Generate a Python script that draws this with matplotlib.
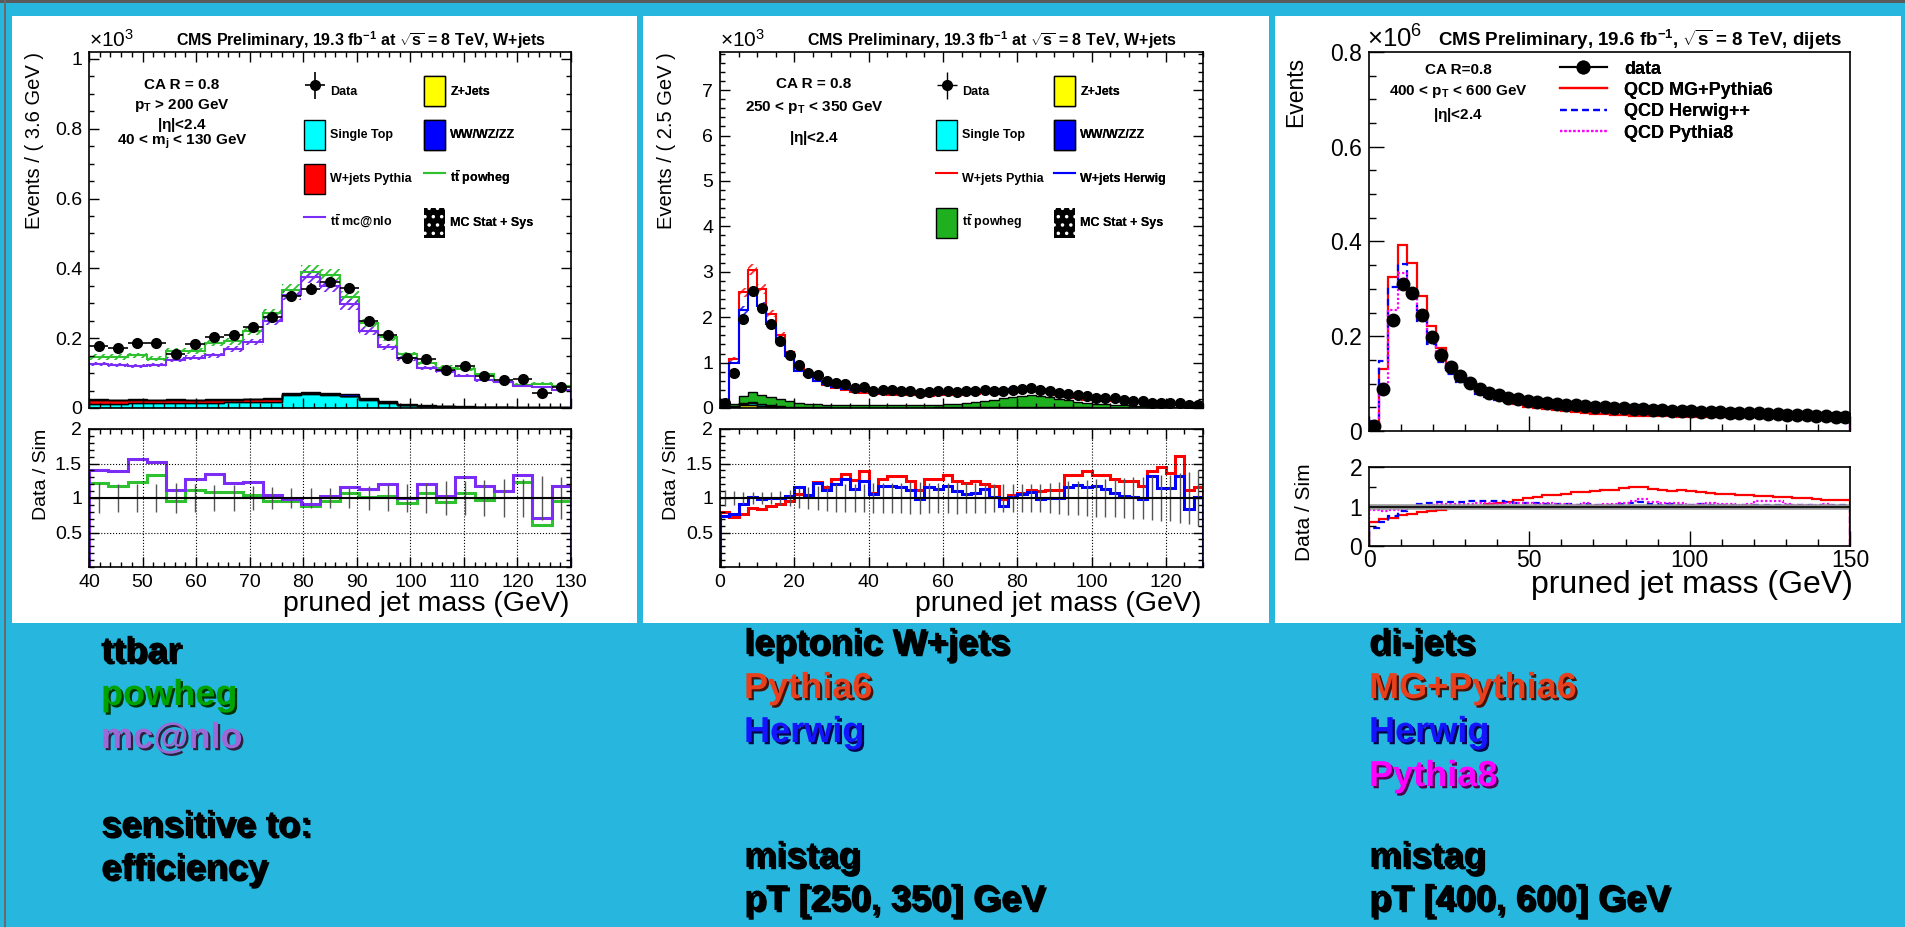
import numpy as np
import matplotlib
matplotlib.use("Agg")
import matplotlib.pyplot as plt
import matplotlib.patheffects as pe
from matplotlib.patches import Rectangle, Patch
from matplotlib.lines import Line2D
from matplotlib.legend_handler import HandlerErrorbar
from matplotlib.ticker import MultipleLocator, FixedLocator, FuncFormatter

plt.rcParams["font.family"] = ["Liberation Sans", "DejaVu Sans"]
plt.rcParams["mathtext.fontset"] = "custom"
plt.rcParams["mathtext.rm"] = "Liberation Sans"
plt.rcParams["mathtext.it"] = "Liberation Sans:italic"
plt.rcParams["mathtext.bf"] = "Liberation Sans:bold"
plt.rcParams["mathtext.default"] = "regular"
plt.rcParams["hatch.linewidth"] = 1.3

W, H = 1905, 927

# ---------------- ttbar sample, W+jets selection (x1e3 events / 3.6 GeV)
tt_edges = np.arange(40, 130.01, 3.6)
tt_data = [0.177, 0.172, 0.187, 0.187, 0.155, 0.184, 0.203, 0.208, 0.232, 0.260,
           0.322, 0.342, 0.361, 0.344, 0.249, 0.209, 0.142, 0.139, 0.110, 0.120,
           0.093, 0.081, 0.083, 0.043, 0.060]
tt_data_err = [0.011, 0.011, 0.011, 0.011, 0.010, 0.011, 0.012, 0.012, 0.012, 0.013,
               0.014, 0.015, 0.015, 0.015, 0.013, 0.012, 0.010, 0.010, 0.009, 0.009,
               0.008, 0.008, 0.008, 0.007, 0.007]
tt_powheg = [0.146, 0.146, 0.151, 0.141, 0.163, 0.164, 0.186, 0.191, 0.221, 0.271,
             0.339, 0.389, 0.380, 0.319, 0.244, 0.203, 0.154, 0.130, 0.116, 0.112,
             0.096, 0.074, 0.067, 0.070, 0.063]
tt_mcnlo = [0.126, 0.123, 0.120, 0.123, 0.138, 0.144, 0.151, 0.170, 0.189, 0.250,
            0.325, 0.376, 0.350, 0.297, 0.220, 0.174, 0.142, 0.115, 0.107, 0.092,
            0.079, 0.074, 0.062, 0.060, 0.051]
tt_singletop = [0.012, 0.012, 0.013, 0.013, 0.014, 0.014, 0.015, 0.016, 0.017, 0.018,
                0.038, 0.040, 0.038, 0.033, 0.024, 0.014, 0.008, 0.005, 0.004, 0.003,
                0.002, 0.002, 0.001, 0.001, 0.001]
tt_wjets = [0.011, 0.010, 0.010, 0.009, 0.009, 0.008, 0.009, 0.008, 0.008, 0.009,
            0.002, 0.002, 0.002, 0.002, 0.002, 0.002, 0.002, 0.002, 0.001, 0.001,
            0.001, 0.001, 0.001, 0.001, 0.001]
tt_diboson = [0.002, 0.002, 0.002, 0.002, 0.002, 0.002, 0.002, 0.002, 0.002, 0.003,
              0.004, 0.004, 0.004, 0.004, 0.003, 0.003, 0.002, 0.002, 0.002, 0.001,
              0.001, 0.001, 0.001, 0.001, 0.001]
tt_ratio_err = [0.22, 0.21, 0.21, 0.21, 0.22, 0.20, 0.19, 0.19, 0.18, 0.16,
                0.15, 0.14, 0.14, 0.15, 0.17, 0.19, 0.21, 0.22, 0.24, 0.24,
                0.26, 0.28, 0.28, 0.32, 0.30]

# ---------------- leptonic W+jets, 250 < pT < 350 GeV (x1e3 events / 2.5 GeV)
wj_edges = np.arange(0, 130.01, 2.5)
wj_data = [0.11, 0.77, 1.96, 2.58, 2.20, 1.85, 1.47, 1.17, 0.95, 0.76,
           0.72, 0.59, 0.56, 0.53, 0.44, 0.46, 0.38, 0.39, 0.39, 0.38,
           0.37, 0.33, 0.35, 0.37, 0.37, 0.35, 0.37, 0.37, 0.40, 0.38,
           0.37, 0.40, 0.42, 0.44, 0.40, 0.37, 0.33, 0.31, 0.28, 0.26,
           0.23, 0.22, 0.21, 0.18, 0.16, 0.15, 0.12, 0.11, 0.11, 0.10,
           0.07, 0.07]
wj_data_err = [0.010, 0.028, 0.044, 0.051, 0.047, 0.043, 0.038, 0.034, 0.031, 0.028,
               0.027, 0.024, 0.024, 0.023, 0.021, 0.021, 0.019, 0.020, 0.020, 0.019,
               0.019, 0.018, 0.019, 0.019, 0.019, 0.019, 0.019, 0.019, 0.020, 0.019,
               0.019, 0.020, 0.020, 0.021, 0.020, 0.019, 0.018, 0.018, 0.017, 0.016,
               0.015, 0.015, 0.014, 0.013, 0.013, 0.012, 0.011, 0.010, 0.010, 0.010,
               0.008, 0.008]
wj_pythia = [0.138, 1.07, 2.55, 3.04, 2.62, 2.08, 1.60, 1.23, 0.896, 0.724,
             0.585, 0.509, 0.438, 0.393, 0.349, 0.329, 0.352, 0.307, 0.295, 0.288,
             0.296, 0.297, 0.273, 0.289, 0.278, 0.280, 0.303, 0.298, 0.333, 0.322,
             0.374, 0.381, 0.389, 0.393, 0.364, 0.333, 0.297, 0.233, 0.211, 0.187,
             0.172, 0.165, 0.165, 0.144, 0.129, 0.127, 0.086, 0.076, 0.081, 0.062,
             0.063, 0.060]
wj_herwig = [0.149, 1.00, 2.15, 2.55, 2.24, 1.85, 1.47, 1.14, 0.819, 0.724,
             0.590, 0.527, 0.463, 0.414, 0.389, 0.371, 0.358, 0.331, 0.331, 0.328,
             0.333, 0.333, 0.302, 0.327, 0.314, 0.318, 0.352, 0.343, 0.354, 0.373,
             0.416, 0.392, 0.396, 0.407, 0.408, 0.370, 0.330, 0.267, 0.237, 0.224,
             0.195, 0.195, 0.196, 0.175, 0.158, 0.153, 0.091, 0.096, 0.096, 0.076,
             0.083, 0.069]
wj_zjets = [0.0, 0.02, 0.06, 0.07, 0.05, 0.03, 0.02, 0.01, 0.005, 0.004,
            0.003, 0.003, 0.002, 0.002, 0.002, 0.002, 0.002, 0.002, 0.002, 0.002,
            0.002, 0.002, 0.002, 0.002, 0.002, 0.002, 0.002, 0.002, 0.002, 0.002,
            0.002, 0.002, 0.002, 0.002, 0.002, 0.002, 0.002, 0.002, 0.001, 0.001,
            0.001, 0.001, 0.001, 0.001, 0.001, 0.001, 0.001, 0.001, 0.001, 0.001,
            0.001, 0.001]
wj_singletop = [0.0, 0.01, 0.03, 0.04, 0.03, 0.02, 0.015, 0.01, 0.008, 0.006,
                0.005, 0.005, 0.005, 0.005, 0.005, 0.005, 0.005, 0.005, 0.005, 0.005,
                0.005, 0.005, 0.005, 0.006, 0.006, 0.007, 0.008, 0.009, 0.010, 0.012,
                0.014, 0.015, 0.016, 0.016, 0.015, 0.013, 0.011, 0.009, 0.008, 0.007,
                0.006, 0.005, 0.005, 0.004, 0.004, 0.003, 0.003, 0.003, 0.002, 0.002,
                0.002, 0.002]
wj_diboson = [0.0, 0.005, 0.01, 0.012, 0.01, 0.008, 0.006, 0.005, 0.004, 0.004,
              0.004, 0.004, 0.004, 0.004, 0.004, 0.004, 0.004, 0.004, 0.004, 0.004,
              0.004, 0.004, 0.004, 0.004, 0.005, 0.005, 0.006, 0.007, 0.008, 0.009,
              0.010, 0.011, 0.012, 0.012, 0.011, 0.010, 0.008, 0.006, 0.005, 0.004,
              0.004, 0.003, 0.003, 0.003, 0.002, 0.002, 0.002, 0.002, 0.002, 0.002,
              0.001, 0.001]
wj_ttbar = [0.02, 0.05, 0.16, 0.22, 0.20, 0.18, 0.16, 0.13, 0.09, 0.08,
            0.07, 0.06, 0.06, 0.05, 0.05, 0.05, 0.05, 0.05, 0.05, 0.05,
            0.05, 0.05, 0.06, 0.06, 0.07, 0.08, 0.09, 0.11, 0.13, 0.16,
            0.20, 0.22, 0.24, 0.25, 0.24, 0.21, 0.18, 0.15, 0.12, 0.10,
            0.08, 0.07, 0.06, 0.05, 0.04, 0.03, 0.03, 0.02, 0.02, 0.02,
            0.01, 0.01]
wj_ratio_err = [0.12, 0.10, 0.08, 0.08, 0.08, 0.09, 0.10, 0.12, 0.14, 0.16,
                0.17, 0.19, 0.20, 0.20, 0.21, 0.21, 0.22, 0.22, 0.22, 0.22,
                0.23, 0.23, 0.22, 0.22, 0.22, 0.23, 0.22, 0.22, 0.22, 0.21,
                0.21, 0.21, 0.20, 0.20, 0.21, 0.22, 0.23, 0.24, 0.25, 0.26,
                0.27, 0.27, 0.28, 0.29, 0.30, 0.30, 0.32, 0.33, 0.34, 0.36,
                0.38, 0.40]

# ---------------- dijets, 400 < pT < 600 GeV (x1e6 events / 3 GeV)
dj_edges = np.arange(0, 150.01, 3.0)
dj_data = [0.010, 0.088, 0.235, 0.310, 0.291, 0.244, 0.198, 0.161, 0.135, 0.116,
           0.102, 0.089, 0.081, 0.075, 0.070, 0.067, 0.063, 0.061, 0.059, 0.057,
           0.055, 0.054, 0.052, 0.051, 0.050, 0.049, 0.048, 0.047, 0.046, 0.045,
           0.044, 0.043, 0.043, 0.042, 0.041, 0.040, 0.040, 0.039, 0.038, 0.037,
           0.037, 0.036, 0.035, 0.034, 0.034, 0.033, 0.032, 0.031, 0.030, 0.029]
dj_mg_pythia6 = [0.0167, 0.131, 0.326, 0.392, 0.355, 0.284, 0.222, 0.175, 0.142, 0.120,
                 0.102, 0.087, 0.077, 0.069, 0.0625, 0.0573, 0.0516, 0.0488, 0.0461, 0.0438,
                 0.0414, 0.0397, 0.0377, 0.0364, 0.0355, 0.0345, 0.0329, 0.0315, 0.0307, 0.0313,
                 0.0308, 0.0307, 0.0303, 0.0304, 0.0301, 0.0296, 0.0301, 0.0298, 0.0292, 0.0287,
                 0.0291, 0.0283, 0.0280, 0.0274, 0.0279, 0.0273, 0.0271, 0.0265, 0.0256, 0.0250]
dj_herwig = [0.0217, 0.147, 0.305, 0.352, 0.297, 0.232, 0.183, 0.146, 0.121, 0.103,
             0.090, 0.078, 0.071, 0.0664, 0.0625, 0.0609, 0.0573, 0.0565, 0.0551, 0.0538,
             0.0514, 0.0514, 0.0491, 0.0490, 0.0476, 0.0467, 0.0449, 0.0427, 0.0411, 0.0425,
             0.0419, 0.0406, 0.0413, 0.0404, 0.0390, 0.0388, 0.0385, 0.0379, 0.0365, 0.0359,
             0.0356, 0.0343, 0.0337, 0.0330, 0.0327, 0.0317, 0.0314, 0.0301, 0.0286, 0.0282]
dj_pythia8 = [0.0111, 0.100, 0.255, 0.333, 0.297, 0.239, 0.190, 0.153, 0.127, 0.108,
              0.0953, 0.0824, 0.0750, 0.0701, 0.0648, 0.0615, 0.0583, 0.0575, 0.0536, 0.0533,
              0.0519, 0.0514, 0.0481, 0.0490, 0.0472, 0.0458, 0.0436, 0.0409, 0.0383, 0.0402,
              0.0407, 0.0391, 0.0398, 0.0400, 0.0387, 0.0364, 0.0374, 0.0368, 0.0362, 0.0352,
              0.0325, 0.0313, 0.0307, 0.0321, 0.0324, 0.0317, 0.0311, 0.0295, 0.0294, 0.0284]

C_BG = "#27b6dd"
C_PURPLE = "#7b2cf5"
C_GREEN = "#2fc12f"
C_TTFILL = "#1fb01f"

fig = plt.figure(figsize=(W / 100, H / 100), dpi=100)
fig.patch.set_facecolor(C_BG)


def box(x0, y0, x1, y1):
    return [x0 / W, 1 - y1 / H, (x1 - x0) / W, (y1 - y0) / H]


def fx(x):
    return x / W


def fy(y):
    return 1 - y / H


# slide frame and the three white panels
fig.add_artist(Rectangle((0, fy(3)), 1, 3 / H, transform=fig.transFigure,
                         fc="#5a5a5a", ec="none", zorder=-2))
fig.add_artist(Rectangle((fx(4), 0), 2 / W, 1, transform=fig.transFigure,
                         fc="#6a6a6a", ec="none", zorder=-2))
for x0, x1 in [(12, 637), (643, 1269), (1275, 1901)]:
    fig.add_artist(Rectangle((fx(x0), fy(623)), (x1 - x0) / W, (623 - 16) / H,
                             transform=fig.transFigure, fc="white", ec="none", zorder=-1))

num = FuncFormatter(lambda v, p: f"{v:g}")


def style(ax, xmaj, xmin, ymaj, ymin, mirror=True, lens=(7, 3.5), fs=14, xlabels=True,
          xpad=5):
    ax.xaxis.set_major_locator(MultipleLocator(xmaj))
    ax.xaxis.set_minor_locator(MultipleLocator(xmin))
    if isinstance(ymaj, list):
        ax.yaxis.set_major_locator(FixedLocator(ymaj))
    else:
        ax.yaxis.set_major_locator(MultipleLocator(ymaj))
    ax.yaxis.set_minor_locator(MultipleLocator(ymin))
    ax.xaxis.set_major_formatter(num)
    ax.yaxis.set_major_formatter(num)
    ax.tick_params(which="both", direction="in", top=mirror, right=mirror,
                   labelsize=fs, width=1, labelbottom=xlabels)
    ax.tick_params(which="major", length=lens[0], pad=5)
    ax.tick_params(axis="x", which="major", pad=xpad)
    ax.tick_params(which="minor", length=lens[1])
    for s in ax.spines.values():
        s.set_linewidth(1.2)


def vtext(x, ytop, s, fs):
    fig.text(fx(x), fy(ytop), s, rotation=90, ha="center", va="top", fontsize=fs)


def stack(ax, edges, layers, colors):
    base = np.zeros(len(edges) - 1)
    for vals, c in zip(layers, colors):
        top = base + np.asarray(vals)
        ax.stairs(top, edges, baseline=base, fill=True, facecolor=c,
                  edgecolor="k", lw=1.0)
        base = top


def band(ax, edges, vals, frac, color):
    v = np.asarray(vals)
    ax.stairs(v * (1 + frac), edges, baseline=v * (1 - frac), fill=True,
              facecolor="none", edgecolor=color, hatch="////", lw=0)


def legend_col(ax, handles, labels, x, y, fs, hh, hl, ls, pad=0.4, hmap=None):
    leg = ax.legend(handles, labels, loc="upper left",
                    bbox_to_anchor=(fx(x), fy(y)), bbox_transform=fig.transFigure,
                    frameon=False, prop={"size": fs, "weight": "bold"},
                    handleheight=hh, handlelength=hl, labelspacing=ls,
                    handletextpad=pad, borderpad=0, borderaxespad=0,
                    handler_map=hmap)
    ax.add_artist(leg)


def centers(edges):
    e = np.asarray(edges)
    return 0.5 * (e[1:] + e[:-1]), 0.5 * (e[1:] - e[:-1])


mcstat = Patch(facecolor="black", edgecolor="white", hatch="..", lw=0)

# =============== panel 1: ttbar =================
ax1 = fig.add_axes(box(89, 52, 571, 408))
ax1r = fig.add_axes(box(89, 429, 571, 567))
xc, xh = centers(tt_edges)

stack(ax1, tt_edges, [tt_singletop, tt_wjets, tt_diboson], ["#00ffff", "#ff0000", "#0000ff"])
band(ax1, tt_edges, tt_powheg, 0.05, C_GREEN)
band(ax1, tt_edges, tt_mcnlo, 0.05, C_PURPLE)
ax1.stairs(tt_powheg, tt_edges, color=C_GREEN, lw=1.5)
ax1.stairs(tt_mcnlo, tt_edges, color=C_PURPLE, lw=1.5)
d1 = ax1.errorbar(xc, tt_data, xerr=xh, yerr=tt_data_err, fmt="o", color="k",
                  ms=7, elinewidth=1.2, capsize=0, zorder=5)
ax1.set_xlim(40, 130)
ax1.set_ylim(0, 1.02)
style(ax1, 10, 2, 0.2, 0.05, xlabels=False)

r_pow = np.asarray(tt_data) / np.asarray(tt_powheg)
r_nlo = np.asarray(tt_data) / np.asarray(tt_mcnlo)
ax1r.grid(True, which="major", ls=":", color="k", lw=0.8)
ax1r.errorbar(xc, np.ones_like(xc), yerr=tt_ratio_err, fmt="none", ecolor="#555555",
              elinewidth=1.0)
ax1r.axhline(1, color="k", lw=1.5)
ax1r.stairs(r_pow, tt_edges, color=C_GREEN, lw=2.2)
ax1r.stairs(r_nlo, tt_edges, color=C_PURPLE, lw=2.2)
ax1r.set_xlim(40, 130)
ax1r.set_ylim(0, 2)
style(ax1r, 10, 2, [0.5, 1, 1.5, 2], 0.1)

fig.text(fx(361), fy(46), r"CMS Preliminary, 19.3 fb$^{-1}$ at $\sqrt{s}$ = 8 TeV, W+jets",
         ha="center", va="baseline", fontsize=11.5, fontweight="bold")
fig.text(fx(89), fy(47), r"$\times$10$^{3}$", ha="left", va="baseline", fontsize=15)
vtext(35, 52, "Events / ( 3.6 GeV )", 14.5)
vtext(41, 429, "Data / Sim", 14)
fig.text(fx(569), fy(604), "pruned jet mass (GeV)", ha="right", va="center", fontsize=20.5)
for s, y in [("CA R = 0.8", 85), (r"p$_{T}$ > 200 GeV", 106), (r"|$\eta$|<2.4", 125),
             (r"40 < m$_{j}$ < 130 GeV", 142)]:
    fig.text(fx(182), fy(y), s, ha="center", va="center", fontsize=11, fontweight="bold")

hm = {d1: HandlerErrorbar(xerr_size=0.8, yerr_size=1.1)}
legend_col(ax1, [d1, Patch(fc="#00ffff", ec="k"), Patch(fc="#ff0000", ec="k"),
                 Line2D([], [], color=C_PURPLE, lw=1.5)],
           ["Data", "Single Top", "W+jets Pythia", r"t$\bar{t}$ mc@nlo"],
           304, 76, 9, 3.3, 1.7, 1.12, hmap=hm)
legend_col(ax1, [Patch(fc="#ffff00", ec="k"), Patch(fc="#0000ff", ec="k"),
                 Line2D([], [], color=C_GREEN, lw=1.5), mcstat],
           ["Z+Jets", "WW/WZ/ZZ", r"t$\bar{t}$ powheg", "MC Stat + Sys"],
           424, 76, 9, 3.3, 1.7, 1.12)

# =============== panel 2: leptonic W+jets =================
ax2 = fig.add_axes(box(720, 52, 1203, 408))
ax2r = fig.add_axes(box(720, 429, 1203, 567))
xc2, xh2 = centers(wj_edges)

stack(ax2, wj_edges, [wj_zjets, wj_singletop, wj_diboson, wj_ttbar],
      ["#ffff00", "#00ffff", "#0000ff", C_TTFILL])
band(ax2, wj_edges, wj_pythia, 0.04, "#ff3333")
band(ax2, wj_edges, wj_herwig, 0.04, "#3333ff")
ax2.stairs(wj_pythia, wj_edges, color="#ff0000", lw=1.5)
ax2.stairs(wj_herwig, wj_edges, color="#0000ff", lw=1.5)
d2 = ax2.errorbar(xc2, wj_data, xerr=xh2, yerr=wj_data_err, fmt="o", color="k", ms=7,
                  elinewidth=1.0, capsize=0, zorder=5)
ax2.set_xlim(0, 130)
ax2.set_ylim(0, 7.84)
style(ax2, 20, 5, 1, 0.2, xlabels=False)

r_py = np.asarray(wj_data) / np.asarray(wj_pythia)
r_hw = np.asarray(wj_data) / np.asarray(wj_herwig)
ax2r.grid(True, which="major", ls=":", color="k", lw=0.8)
ax2r.errorbar(xc2, np.ones_like(xc2), yerr=wj_ratio_err, fmt="none", ecolor="#555555",
              elinewidth=1.0)
ax2r.axhline(1, color="k", lw=1.5)
ax2r.stairs(r_py, wj_edges, color="#ff0000", lw=2.2)
ax2r.stairs(r_hw, wj_edges, color="#0000ff", lw=2.2)
ax2r.set_xlim(0, 130)
ax2r.set_ylim(0, 2)
style(ax2r, 20, 5, [0.5, 1, 1.5, 2], 0.1)

fig.text(fx(992), fy(46), r"CMS Preliminary, 19.3 fb$^{-1}$ at $\sqrt{s}$ = 8 TeV, W+jets",
         ha="center", va="baseline", fontsize=11.5, fontweight="bold")
fig.text(fx(720), fy(47), r"$\times$10$^{3}$", ha="left", va="baseline", fontsize=15)
vtext(667, 52, "Events / ( 2.5 GeV )", 14.5)
vtext(671, 429, "Data / Sim", 14)
fig.text(fx(1201), fy(604), "pruned jet mass (GeV)", ha="right", va="center", fontsize=20.5)
for s, y in [("CA R = 0.8", 84), (r"250 < p$_{T}$ < 350 GeV", 108), (r"|$\eta$|<2.4", 138)]:
    fig.text(fx(814), fy(y), s, ha="center", va="center", fontsize=11, fontweight="bold")

hm2 = {d2: HandlerErrorbar(xerr_size=0.8, yerr_size=1.1)}
legend_col(ax2, [d2, Patch(fc="#00ffff", ec="k"), Line2D([], [], color="#ff0000", lw=1.5),
                 Patch(fc=C_TTFILL, ec="k")],
           ["Data", "Single Top", "W+jets Pythia", r"t$\bar{t}$ powheg"],
           936, 76, 9, 3.3, 1.7, 1.12, hmap=hm2)
legend_col(ax2, [Patch(fc="#ffff00", ec="k"), Patch(fc="#0000ff", ec="k"),
                 Line2D([], [], color="#0000ff", lw=1.5), mcstat],
           ["Z+Jets", "WW/WZ/ZZ", "W+jets Herwig", "MC Stat + Sys"],
           1054, 76, 9, 3.3, 1.7, 1.12)

# =============== panel 3: dijets =================
ax3 = fig.add_axes(box(1369, 52, 1850, 431))
ax3r = fig.add_axes(box(1369, 467, 1850, 546))
xc3, xh3 = centers(dj_edges)

ax3.stairs(dj_mg_pythia6, dj_edges, color="#ff0000", lw=1.6)
ax3.stairs(dj_herwig, dj_edges, color="#0000ff", lw=1.6, ls=(0, (3, 2)))
ax3.stairs(dj_pythia8, dj_edges, color="#ff00ff", lw=1.6, ls=(0, (1, 1)))
ax3.plot(xc3, dj_data, "o", color="k", ms=9, zorder=5)
ax3.set_xlim(0, 150)
ax3.set_ylim(0, 0.8)
style(ax3, 50, 10, 0.2, 0.05, mirror=False, lens=(11, 5), fs=16.5, xlabels=False)

ax3r.axhline(1, color="#999999", lw=4)
ax3r.axhline(1, color="k", lw=1.2)
for mc, c, ls in [(dj_mg_pythia6, "#ff0000", "-"), (dj_herwig, "#0000ff", (0, (3, 2))),
                  (dj_pythia8, "#ff00ff", (0, (1, 1)))]:
    ax3r.stairs(np.asarray(dj_data) / np.asarray(mc), dj_edges, color=c, lw=1.6, ls=ls)
ax3r.set_xlim(0, 150)
ax3r.set_ylim(0, 2)
style(ax3r, 50, 10, [0, 1, 2], 0.5, mirror=False, lens=(11, 5), fs=16.5, xpad=2)

fig.text(fx(1640), fy(46), r"CMS Preliminary, 19.6 fb$^{-1}$, $\sqrt{s}$ = 8 TeV, dijets",
         ha="center", va="baseline", fontsize=13.5, fontweight="bold")
fig.text(fx(1367), fy(48), r"$\times$10$^{6}$", ha="left", va="baseline", fontsize=18.5)
vtext(1296, 57, "Events", 16.5)
vtext(1304, 463, "Data / Sim", 15)
fig.text(fx(1853), fy(585), "pruned jet mass (GeV)", ha="right", va="center", fontsize=23)
for s, y in [("CA R=0.8", 70), (r"400 < p$_{T}$ < 600 GeV", 92), (r"|$\eta$|<2.4", 115)]:
    fig.text(fx(1458), fy(y), s, ha="center", va="center", fontsize=11, fontweight="bold")

legend_col(ax3, [Line2D([], [], color="k", marker="o", ms=9, lw=1.5),
                 Line2D([], [], color="#ff0000", lw=1.6),
                 Line2D([], [], color="#0000ff", lw=1.6, ls=(0, (3, 2))),
                 Line2D([], [], color="#ff00ff", lw=1.6, ls=(0, (1, 1)))],
           ["data", "QCD MG+Pythia6", "QCD Herwig++", "QCD Pythia8"],
           1560, 60, 13, 0.9, 2.6, 0.2, pad=0.95)

# =============== captions under the panels =================
shadow = [pe.SimplePatchShadow(offset=(1.6, -1.6), alpha=1.0, rho=0.3), pe.Normal()]
captions = [
    (101, [("ttbar", "black", 662), ("powheg", "#00a400", 705), ("mc@nlo", "#9b6ad6", 748),
           ("sensitive to:", "black", 836), ("efficiency", "black", 879)]),
    (744, [("leptonic W+jets", "black", 654), ("Pythia6", "#e8401c", 698),
           ("Herwig", "#1414ff", 742), ("mistag", "black", 867),
           ("pT [250, 350] GeV", "black", 910)]),
    (1369, [("di-jets", "black", 654), ("MG+Pythia6", "#e8401c", 698),
            ("Herwig", "#1414ff", 742), ("Pythia8", "#ff00ff", 786),
            ("mistag", "black", 867), ("pT [400, 600] GeV", "black", 910)]),
]
for x, rows in captions:
    for s, c, y in rows:
        fig.text(fx(x), fy(y), s, ha="left", va="baseline", fontsize=26,
                 fontweight="bold", color=c, path_effects=shadow)

fig.savefig("out.png", dpi=100, facecolor=fig.get_facecolor())
